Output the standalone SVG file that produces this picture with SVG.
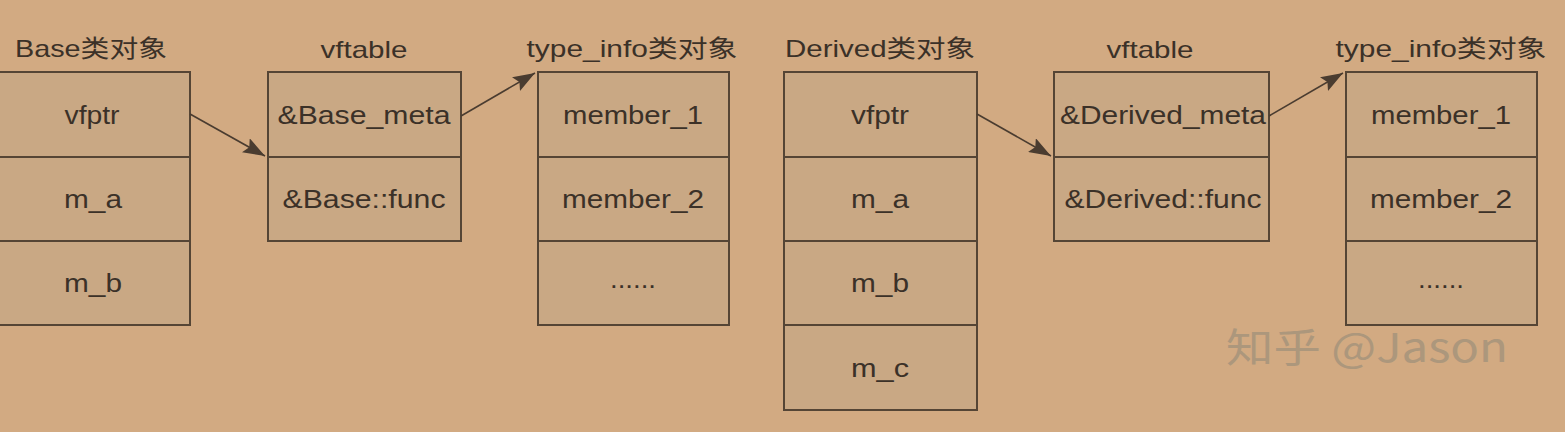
<svg xmlns="http://www.w3.org/2000/svg" width="1565" height="432" viewBox="0 0 1565 432">
<defs>
<style>
.bg{fill:#d2aa82}
.cell{fill:#c9a884;stroke:#554535;stroke-width:2}
.t{font-family:"Liberation Sans",Arial,"Noto Sans CJK SC",sans-serif;font-size:26px;fill:#3b3128;text-anchor:middle}
.h{font-family:"Liberation Sans",Arial,"Noto Sans CJK SC",sans-serif;font-size:24px;fill:#3b3128;text-anchor:middle}
.wm{font-family:"Noto Sans CJK SC","Liberation Sans",sans-serif;font-size:40px;fill:#a8957c;opacity:0.9}
.c{stroke:#4a3c30;stroke-width:1.6;fill:none}
</style>
<marker id="ah" viewBox="0 0 22 16" refX="22" refY="8" markerWidth="22" markerHeight="16" markerUnits="userSpaceOnUse" orient="auto"><path d="M0,0 L22,8 L0,16 L4,8 z" fill="#4a3c30"/></marker>
</defs>
<rect class="bg" x="0" y="0" width="1565" height="432"/>

<g id="base">
<text class="h" x="91" y="57" textLength="152" lengthAdjust="spacingAndGlyphs">Base类对象</text>
<rect class="cell" x="-2" y="72" width="192" height="85"/>
<rect class="cell" x="-2" y="157" width="192" height="84"/>
<rect class="cell" x="-2" y="241" width="192" height="84"/>
<text class="t" x="92" y="124" textLength="55" lengthAdjust="spacingAndGlyphs">vfptr</text>
<text class="t" x="93" y="208" textLength="58" lengthAdjust="spacingAndGlyphs">m_a</text>
<text class="t" x="93" y="292" textLength="58" lengthAdjust="spacingAndGlyphs">m_b</text>
</g>

<g id="vftable1">
<text class="h" x="364" y="58" textLength="87" lengthAdjust="spacingAndGlyphs">vftable</text>
<rect class="cell" x="268" y="72" width="193" height="85"/>
<rect class="cell" x="268" y="157" width="193" height="84"/>
<text class="t" x="364" y="124" textLength="173" lengthAdjust="spacingAndGlyphs">&amp;Base_meta</text>
<text class="t" x="364" y="208" textLength="163" lengthAdjust="spacingAndGlyphs">&amp;Base::func</text>
</g>

<g id="typeinfo1">
<text class="h" x="632" y="57" textLength="211" lengthAdjust="spacingAndGlyphs">type_info类对象</text>
<rect class="cell" x="538" y="72" width="191" height="85"/>
<rect class="cell" x="538" y="157" width="191" height="84"/>
<rect class="cell" x="538" y="241" width="191" height="84"/>
<text class="t" x="633" y="124" textLength="140" lengthAdjust="spacingAndGlyphs">member_1</text>
<text class="t" x="633" y="208" textLength="142" lengthAdjust="spacingAndGlyphs">member_2</text>
<text class="t" x="633" y="288" textLength="46" lengthAdjust="spacingAndGlyphs">......</text>
</g>

<g id="derived">
<text class="h" x="880" y="57" textLength="190" lengthAdjust="spacingAndGlyphs">Derived类对象</text>
<rect class="cell" x="784" y="72" width="193" height="85"/>
<rect class="cell" x="784" y="157" width="193" height="84"/>
<rect class="cell" x="784" y="241" width="193" height="84"/>
<rect class="cell" x="784" y="325" width="193" height="85"/>
<text class="t" x="880" y="124" textLength="58" lengthAdjust="spacingAndGlyphs">vfptr</text>
<text class="t" x="880" y="208" textLength="58" lengthAdjust="spacingAndGlyphs">m_a</text>
<text class="t" x="880" y="292" textLength="58" lengthAdjust="spacingAndGlyphs">m_b</text>
<text class="t" x="880" y="377" textLength="58" lengthAdjust="spacingAndGlyphs">m_c</text>
</g>

<g id="vftable2">
<text class="h" x="1150" y="58" textLength="87" lengthAdjust="spacingAndGlyphs">vftable</text>
<rect class="cell" x="1054" y="72" width="215" height="85"/>
<rect class="cell" x="1054" y="157" width="215" height="84"/>
<text class="t" x="1163" y="124" textLength="206" lengthAdjust="spacingAndGlyphs">&amp;Derived_meta</text>
<text class="t" x="1163" y="208" textLength="197" lengthAdjust="spacingAndGlyphs">&amp;Derived::func</text>
</g>

<g id="typeinfo2">
<text class="h" x="1441" y="57" textLength="211" lengthAdjust="spacingAndGlyphs">type_info类对象</text>
<rect class="cell" x="1346" y="72" width="191" height="85"/>
<rect class="cell" x="1346" y="157" width="191" height="84"/>
<rect class="cell" x="1346" y="241" width="191" height="84"/>
<text class="t" x="1441" y="124" textLength="140" lengthAdjust="spacingAndGlyphs">member_1</text>
<text class="t" x="1441" y="208" textLength="142" lengthAdjust="spacingAndGlyphs">member_2</text>
<text class="t" x="1441" y="288" textLength="46" lengthAdjust="spacingAndGlyphs">......</text>
</g>

<g id="connectors">
<line class="c" x1="190" y1="114" x2="265" y2="156" marker-end="url(#ah)"/>
<line class="c" x1="461" y1="116" x2="535" y2="73" marker-end="url(#ah)"/>
<line class="c" x1="977" y1="114" x2="1051" y2="156" marker-end="url(#ah)"/>
<line class="c" x1="1269" y1="116" x2="1343" y2="73" marker-end="url(#ah)"/>
</g>

<text class="wm" x="1226" y="362" textLength="282" lengthAdjust="spacingAndGlyphs">知乎 @Jason</text>
</svg>
